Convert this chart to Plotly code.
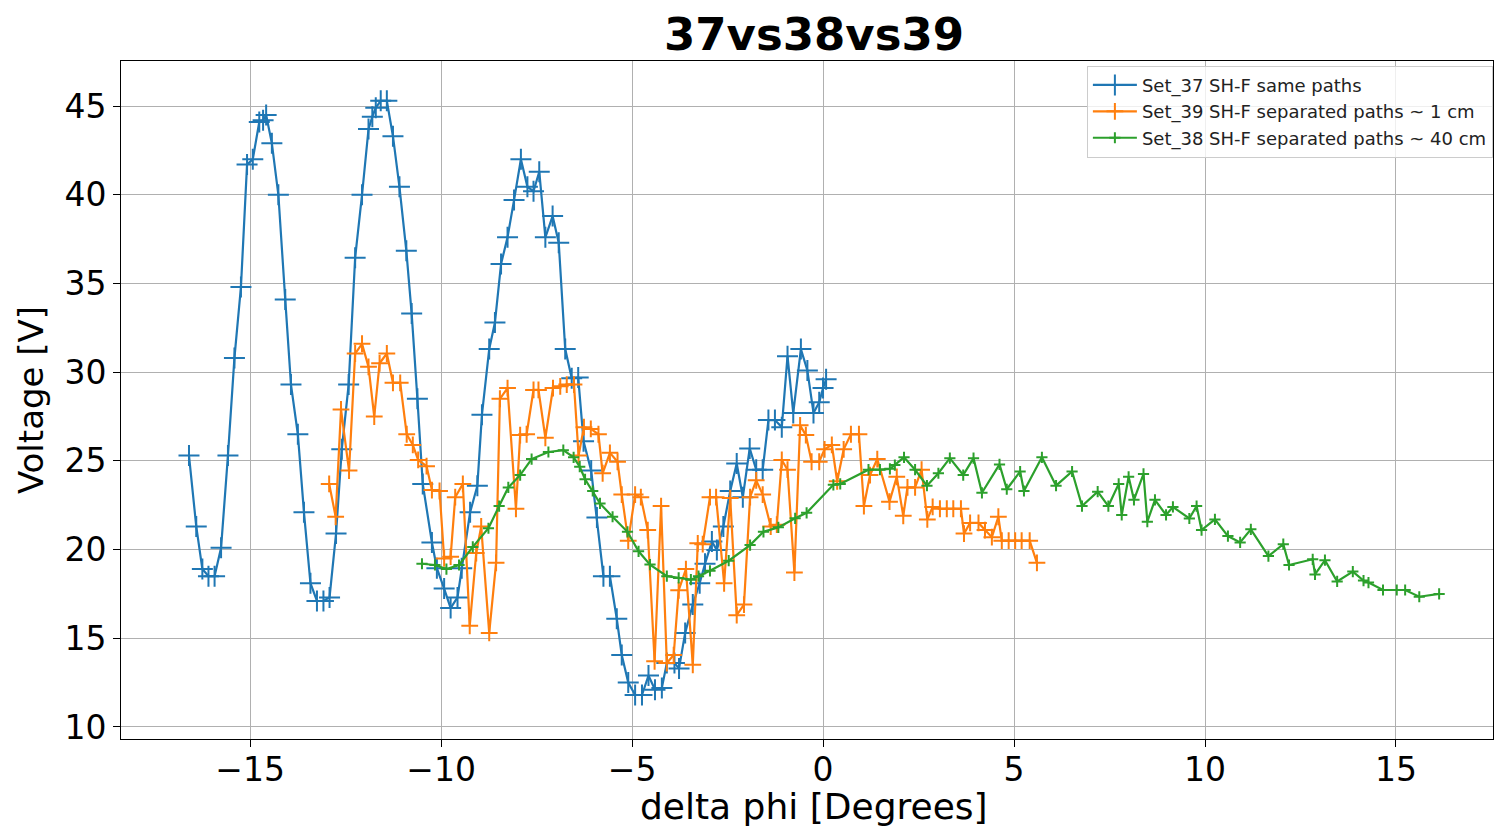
import plotly.graph_objects as go

# ---------------- data ----------------
set37_x = [-16.6, -16.41, -16.25, -16.09, -15.93, -15.76, -15.58, -15.41, -15.24, -15.08,
           -14.93, -14.76, -14.66, -14.58, -14.43, -14.26, -14.08, -13.93, -13.75, -13.59,
           -13.42, -13.25, -13.08, -12.92, -12.75, -12.6, -12.42, -12.25, -12.07, -11.9,
           -11.8, -11.71, -11.58, -11.42, -11.26, -11.09, -10.91, -10.77, -10.62, -10.48,
           -10.24, -10.11, -9.92, -9.75, -9.57, -9.46, -9.24, -9.05, -8.93, -8.74,
           -8.59, -8.43, -8.26, -8.09, -7.91, -7.74, -7.58, -7.43, -7.27, -7.08,
           -6.92, -6.75, -6.58, -6.41, -6.27, -6.07, -5.92, -5.75, -5.58, -5.4,
           -5.27, -5.1, -4.92, -4.74, -4.57, -4.4, -4.22, -4.09, -3.89, -3.77,
           -3.61, -3.41, -3.23, -3.09, -2.91, -2.78, -2.61, -2.43, -2.26, -2.1,
           -1.92, -1.75, -1.58, -1.43, -1.26, -1.08, -0.93, -0.78, -0.58, -0.41,
           -0.25, -0.1, 0.0, 0.08]
set37_y = [25.3, 21.3, 18.9, 18.5, 18.5, 20.1, 25.3, 30.8, 34.8, 41.7,
           42.0, 44.1, 44.2, 44.5, 42.9, 40.0, 34.1, 29.3, 26.5, 22.1,
           18.1, 17.1, 17.1, 17.3, 20.9, 25.65, 29.3, 36.45, 40.0, 43.7,
           44.4, 44.9, 45.3, 45.3, 43.3, 40.45, 36.85, 33.3, 28.5, 23.7,
           20.4, 18.95, 17.8, 16.7, 17.3, 18.95, 22.1, 23.6, 27.6, 31.3,
           32.8, 36.1, 37.6, 39.7, 42.0, 40.45, 40.2, 41.3, 37.6, 38.8,
           37.3, 31.3, 29.65, 29.7, 26.1, 24.45, 21.8, 18.5, 18.5, 16.1,
           14.05, 12.5, 11.8, 11.8, 12.9, 12.1, 12.2, 13.6, 13.6, 13.3,
           15.3, 16.9, 18.1, 19.2, 20.45, 19.97, 21.3, 23.3, 24.85, 22.95,
           25.7, 24.5, 24.5, 27.3, 27.3, 26.9, 30.9, 27.7, 31.3, 30.1,
           27.7, 28.3, 29.1, 29.6]

set39_x = [-12.93, -12.76, -12.62, -12.41, -12.25, -12.07, -11.9, -11.75, -11.61, -11.42,
           -11.26, -11.07, -10.9, -10.74, -10.6, -10.38, -10.24, -10.04, -9.92, -9.75,
           -9.63, -9.43, -9.25, -9.08, -8.95, -8.74, -8.56, -8.46, -8.26, -8.04,
           -7.93, -7.76, -7.58, -7.45, -7.27, -7.07, -6.88, -6.71, -6.52, -6.4,
           -6.26, -6.08, -5.88, -5.77, -5.58, -5.38, -5.27, -5.1, -4.92, -4.77,
           -4.59, -4.41, -4.24, -4.09, -3.91, -3.78, -3.59, -3.41, -3.28, -3.15,
           -2.96, -2.8, -2.59, -2.43, -2.26, -2.07, -1.91, -1.75, -1.58, -1.37,
           -1.21, -1.08, -0.93, -0.75, -0.6, -0.45, -0.3, -0.1, 0.04, 0.23,
           0.37, 0.54, 0.73, 0.94, 1.07, 1.23, 1.42, 1.74, 1.93, 2.1,
           2.21, 2.41, 2.58, 2.73, 2.87, 3.06, 3.24, 3.41, 3.61, 3.69,
           3.85, 4.07, 4.24, 4.42, 4.59, 4.68, 4.86, 5.03, 5.2, 5.41, 5.6]
set39_y = [23.7, 21.85, 27.9, 24.45, 31.05, 31.6, 30.3, 27.5, 30.5, 31.05,
           29.4, 29.4, 26.5, 25.9, 25.05, 24.7, 23.35, 23.3, 19.5, 19.6,
           22.95, 23.7, 15.7, 19.8, 21.3, 15.3, 19.25, 28.5, 29.1, 22.3,
           26.45, 26.5, 29.0, 29.0, 26.3, 29.1, 29.2, 29.3, 29.3, 25.3,
           26.9, 26.8, 26.5, 24.3, 25.45, 24.95, 23.1, 20.5, 23.1, 22.95,
           21.1, 13.7, 22.45, 13.6, 14.05, 17.7, 18.9, 13.5, 20.35, 20.3,
           22.95, 22.95, 18.1, 22.9, 16.3, 16.9, 22.95, 23.9, 23.1, 21.3,
           21.4, 25.05, 24.5, 18.7, 27.0, 26.45, 24.95, 24.95, 25.65, 25.9,
           23.85, 25.65, 26.5, 26.5, 22.45, 24.2, 25.1, 22.7, 24.1, 21.9,
           23.5, 23.5, 24.5, 21.7, 22.4, 22.3, 22.3, 22.3, 22.3, 20.9,
           21.5, 21.5, 21.1, 20.7, 21.85, 20.5, 20.5, 20.5, 20.5, 20.5, 19.25]

set38_x = [-10.5, -10.16, -9.86, -9.53, -9.17, -8.76, -8.48, -8.24, -7.93, -7.63,
           -7.19, -6.8, -6.53, -6.37, -6.23, -6.03, -5.84, -5.51, -5.12, -4.83,
           -4.53, -4.09, -3.78, -3.46, -3.26, -2.96, -2.47, -1.91, -1.56, -1.17,
           -0.73, -0.43, 0.27, 0.45, 1.19, 1.49, 1.75, 1.88, 2.12, 2.41,
           2.72, 3.02, 3.32, 3.67, 3.94, 4.16, 4.62, 4.81, 5.16, 5.26,
           5.73, 6.1, 6.52, 6.78, 7.19, 7.47, 7.74, 7.82, 8.0, 8.14,
           8.39, 8.49, 8.69, 8.98, 9.16, 9.59, 9.78, 9.91, 10.26, 10.6,
           10.92, 11.2, 11.66, 12.05, 12.2, 12.82, 12.88, 13.14, 13.46, 13.87,
           14.15, 14.28, 14.66, 15.02, 15.24, 15.61, 16.13]
set38_y = [19.2, 19.13, 18.9, 19.13, 20.15, 21.2, 22.45, 23.5, 24.2, 25.1,
           25.5, 25.6, 25.2, 24.67, 23.96, 23.3, 22.6, 21.85, 21.0, 19.9,
           19.15, 18.5, 18.4, 18.3, 18.5, 18.8, 19.37, 20.25, 21.0, 21.25,
           21.76, 22.07, 23.65, 23.7, 24.5, 24.5, 24.55, 24.76, 25.2, 24.5,
           23.6, 24.3, 25.15, 24.2, 25.15, 23.2, 24.8, 23.4, 24.4, 23.3,
           25.2, 23.6, 24.4, 22.45, 23.26, 22.45, 23.7, 21.95, 24.1, 22.8,
           24.26, 21.57, 22.8, 21.95, 22.4, 21.75, 22.45, 21.1, 21.7, 20.76,
           20.4, 21.14, 19.63, 20.3, 19.13, 19.45, 18.6, 19.4, 18.2, 18.76,
           18.25, 18.14, 17.72, 17.72, 17.72, 17.34, 17.5]

x_ticks = [-15, -10, -5, 0, 5, 10, 15]
y_ticks = [10, 15, 20, 25, 30, 35, 40, 45]

FONT = "DejaVu Sans"

fig = go.Figure()


def add(x, y, name, color, msize):
    fig.add_trace(go.Scatter(
        x=x, y=y, name=name, mode="lines+markers",
        line=dict(color=color, width=2.2),
        marker=dict(symbol="cross-thin", size=msize, color=color,
                    line=dict(color=color, width=2)),
    ))


add(set37_x, set37_y, "Set_37 SH-F same paths", "#1f77b4", 15)
add(set39_x, set39_y, "Set_39 SH-F separated paths ~ 1 cm", "#ff7f0e", 12)
add(set38_x, set38_y, "Set_38 SH-F separated paths ~ 40 cm", "#2ca02c", 8)

axis_common = dict(
    showgrid=True, gridcolor="#b0b0b0", gridwidth=1,
    showline=True, linecolor="black", linewidth=1, mirror=True,
    ticks="outside", ticklen=7, tickwidth=1, tickcolor="black",
    zeroline=False,
    tickfont=dict(family=FONT, size=33, color="black"),
)

fig.update_layout(
    width=1494, height=830,
    margin=dict(l=121, r=1, t=61, b=91),
    paper_bgcolor="white", plot_bgcolor="white",
    font=dict(family=FONT, color="black"),
    title=dict(text="<b>37vs38vs39</b>", x=(814 - 121) / 1372, xref="paper", xanchor="center",
               y=1 - 34 / 830, yref="container", yanchor="middle",
               font=dict(family=FONT, size=45, color="black")),
    xaxis=dict(range=[-18.38, 17.54], tickvals=x_ticks,
               ticktext=[("\u2212" + str(-v)) if v < 0 else str(v) for v in x_ticks],
               ticklabelstandoff=-6,
               **axis_common),
    yaxis=dict(range=[9.32, 47.54], tickvals=y_ticks,
               title=dict(text="Voltage [V]", standoff=10,
                          font=dict(family=FONT, size=34, color="black")),
               **axis_common),
    legend=dict(x=0.704, y=0.993, xanchor="left", yanchor="top",
                bgcolor="rgba(255,255,255,0.8)", bordercolor="#cccccc", borderwidth=1,
                font=dict(family=FONT, size=18, color="#222222"),
                tracegroupgap=0, itemwidth=44),
    showlegend=True,
)

# x-axis title (placed as text centred under the plot area)
fig.add_annotation(text="delta phi [Degrees]", xref="paper", yref="paper",
                   x=(814 - 121) / 1372, y=(739 - 806) / 678,
                   xanchor="center", yanchor="middle", showarrow=False,
                   font=dict(family=FONT, size=36, color="black"))

fig.write_html("out.html")
